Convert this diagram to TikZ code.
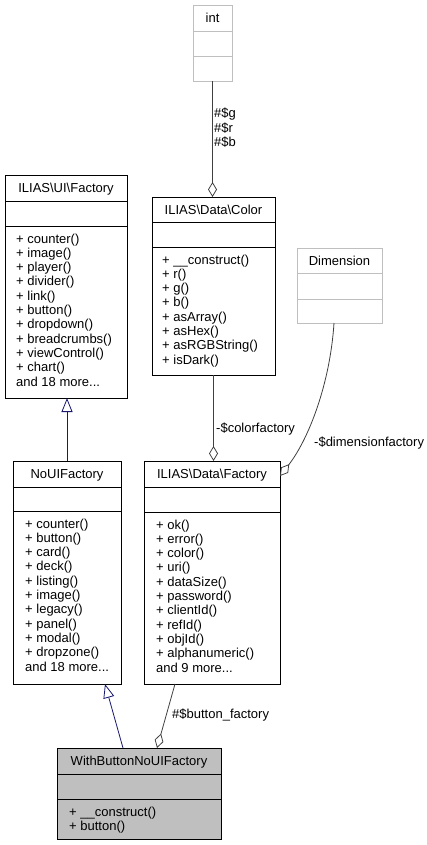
\documentclass[tikz,border=0pt]{standalone}
\usepackage{fontspec}
\setmainfont{Liberation Sans}
\usetikzlibrary{arrows.meta,calc}
\definecolor{edgegray}{HTML}{404040}
\definecolor{inhblue}{HTML}{191970}
\definecolor{lightborder}{HTML}{BFBFBF}
\definecolor{fillgray}{HTML}{BFBFBF}

\newcommand\tripledots{...}
\newcommand\umlclass[9]{%
  \node[boxbase,#9,minimum width={#4-#2},minimum height={#5-#3}] (#1) at (#2,#3) {};
  \draw[#9] (#2,#6) -- (#4,#6) (#2,#7) -- (#4,#7);
  \node[txt,anchor=base] (#1-title) at ({(#2+#4)/2},{(#3+#6)/2+4.6}) {#8};
}
\newcommand\umlmethods[4]{%
  \foreach \m [count=\i from 0] in {#4} {
    \node[txt,anchor=base west] (#1-m\i) at (#2,{#3+\i*14.3}) {\m};
  }
}

\begin{document}
\begin{tikzpicture}[x=1pt,y=-1pt,
  txt/.style={inner sep=0pt,font=\fontsize{13}{14.3}\selectfont},
  boxbase/.style={anchor=north west,inner sep=0pt,outer sep=0pt},
  solidbox/.style={draw=black,line width=0.9pt},
  graybox/.style={draw=lightborder,line width=0.9pt},
  filledbox/.style={draw=black,line width=0.9pt,fill=fillgray},
  agg/.style={draw=edgegray,line width=0.8pt,-{Diamond[open,length=15pt,width=9pt]}},
  inh/.style={draw=inhblue,line width=0.8pt,-{Triangle[open,length=14pt,width=11pt]}},
  lbl/.style={txt,anchor=west}]
\useasboundingbox (0,0) rectangle (427,845);

% classes
\umlclass{int}{193}{5}{232}{81}{31}{56}{int}{graybox}
\umlclass{ui}{5}{175}{127}{398}{201}{226}{ILIAS\textbackslash UI\textbackslash Factory}{solidbox}
\umlmethods{ui}{16}{243}{+ counter(),+ image(),+ player(),+ divider(),+ link(),+ button(),+ dropdown(),+ breadcrumbs(),+ viewControl(),+ chart(),and 18 more\tripledots}

\umlclass{color}{152}{197}{275}{375}{222}{247}{ILIAS\textbackslash Data\textbackslash Color}{solidbox}
\umlmethods{color}{162}{264}{+ \_\_construct(),+ r(),+ g(),+ b(),+ asArray(),+ asHex(),+ asRGBString(),+ isDark()}

\umlclass{dim}{297}{248}{382}{323}{273}{299}{Dimension}{graybox}

\umlclass{noui}{13}{461}{121}{684}{487}{511}{NoUIFactory}{solidbox}
\umlmethods{noui}{25}{528}{+ counter(),+ button(),+ card(),+ deck(),+ listing(),+ image(),+ legacy(),+ panel(),+ modal(),+ dropzone(),and 18 more\tripledots}

\umlclass{df}{144}{461}{280}{684}{487}{512}{ILIAS\textbackslash Data\textbackslash Factory}{solidbox}
\umlmethods{df}{156}{529}{+ ok(),+ error(),+ color(),+ uri(),+ dataSize(),+ password(),+ clientId(),+ refId(),+ objId(),+ alphanumeric(),and 9 more\tripledots}

\umlclass{wb}{57}{748}{221}{839}{774}{799}{WithButtonNoUIFactory}{filledbox}
\umlmethods{wb}{69}{816}{+ \_\_construct(),+ button()}

% connectors
\draw[agg] (int.south) -- (int.south |- color.north);
\node[lbl] (lg) at (214,114) {\#\$g};
\node[lbl] (lr) at (214,128) {\#\$r};
\node[lbl] (lb) at (214,142) {\#\$b};

\draw[inh] (noui.north) -- (noui.north |- ui.south);

\draw[agg] (color.south) -- (color.south |- df.north);
\node[lbl] (lcf) at (216,429) {-\$colorfactory};

\coordinate (dimfoot) at ($(dim.south)+(-5.5,0)$);
\coordinate (dfright) at ($(df.north east)+(0,15)$);
\draw[agg] (dimfoot) .. controls (330,385) and (308,440) .. (dfright);
\node[lbl] (ldf) at (314,443) {-\$dimensionfactory};

\coordinate (wbinh) at ($(wb.north west)+(66,0)$);
\coordinate (nouibot) at ($(noui.south west)+(92,0)$);
\draw[inh] (wbinh) -- (nouibot);

\coordinate (dfbot) at ($(df.south west)+(31,0)$);
\coordinate (wbagg) at ($(wb.north west)+(100,0)$);
\draw[agg] (dfbot) -- (wbagg);
\node[lbl] (lbf) at (172,715) {\#\$button\_factory};
\end{tikzpicture}
\end{document}
